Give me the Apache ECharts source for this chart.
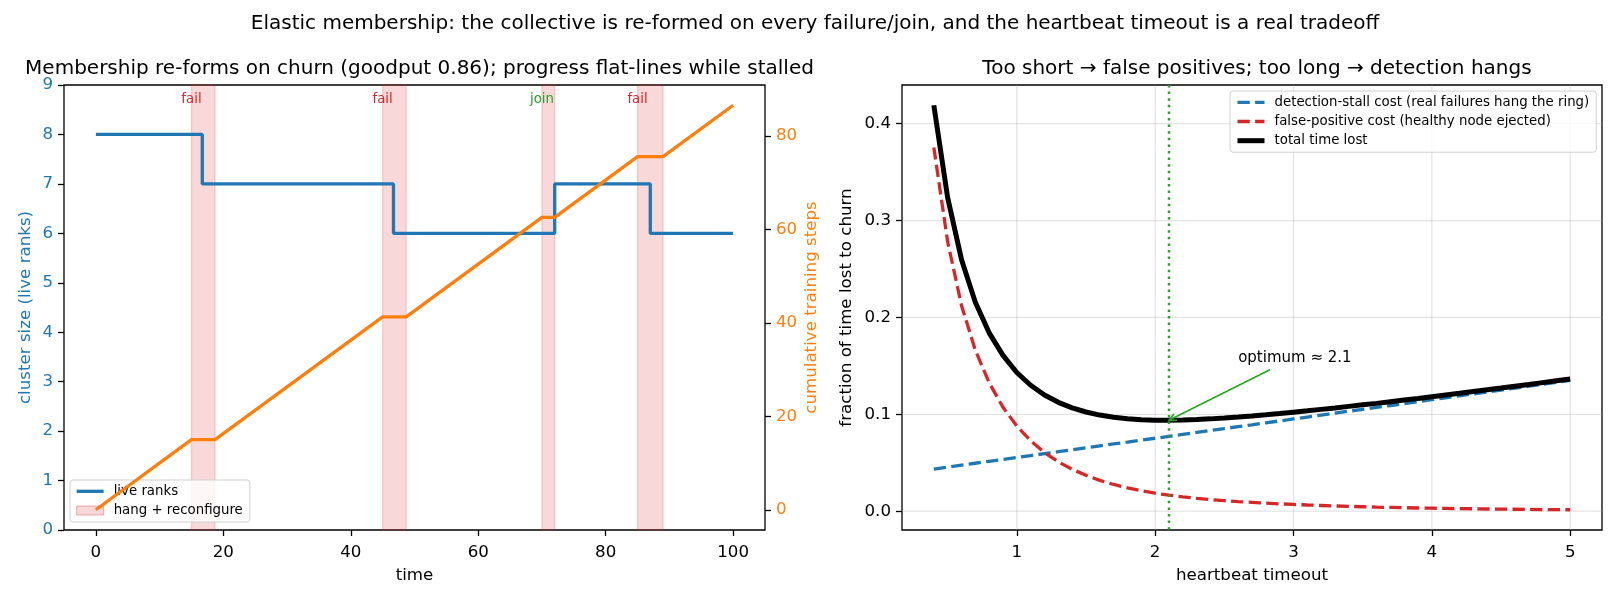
<!DOCTYPE html>
<html>
<head>
<meta charset="utf-8">
<script src="https://cdn.jsdelivr.net/npm/echarts@6/dist/echarts.min.js"></script>
<style>
html,body{margin:0;padding:0;background:#fff;}
#chart{width:1620px;height:600px;}
</style>
</head>
<body>
<div id="chart"></div>
<script>
// ---------- Left panel data ----------
const liveTime = [0, 16.7, 46.7, 72, 87, 100];
const liveRanks = [8, 7, 6, 7, 6, 6];
const stepTime = [0, 15, 18.7, 45, 48.7, 70, 72, 85, 89, 100];
const cumSteps = [0, 15, 15, 41.3, 41.3, 62.6, 62.6, 75.6, 75.6, 86.6];
const spanStart = [15, 45, 70, 85];
const spanEnd = [18.7, 48.7, 72, 89];
const spanKind = ['fail', 'fail', 'join', 'fail'];
const spanLabelY = 8.7;
const leftXTicks = [0, 20, 40, 60, 80, 100];
const stepTicks = [0, 20, 40, 60, 80];

// ---------- Right panel data ----------
const timeout = [0.4,0.5,0.6,0.7,0.8,0.9,1.0,1.1,1.2,1.3,1.4,1.5,1.6,1.7,1.8,1.9,2.0,2.1,2.2,2.3,2.4,2.5,2.6,2.7,2.8,2.9,3.0,3.1,3.2,3.3,3.4,3.5,3.6,3.7,3.8,3.9,4.0,4.1,4.2,4.3,4.4,4.5,4.6,4.7,4.8,4.9,5.0];
const stallCost = [0.0435,0.0455,0.0475,0.0495,0.0515,0.0535,0.0554,0.0574,0.0594,0.0614,0.0634,0.0654,0.0674,0.0694,0.0713,0.0733,0.0753,0.0773,0.0793,0.0813,0.0833,0.0853,0.0873,0.0892,0.0912,0.0932,0.0952,0.0972,0.0992,0.1012,0.1032,0.1052,0.1071,0.1091,0.1111,0.1131,0.1151,0.1171,0.1191,0.1211,0.1231,0.1250,0.1270,0.1290,0.1310,0.1330,0.1350];
const fpCost = [0.3755,0.2782,0.2124,0.1662,0.1326,0.1073,0.0878,0.0726,0.0606,0.0510,0.0433,0.0370,0.0318,0.0276,0.0241,0.0211,0.0186,0.0165,0.0148,0.0133,0.0120,0.0109,0.0099,0.0091,0.0083,0.0076,0.0070,0.0064,0.0059,0.0054,0.0050,0.0046,0.0042,0.0039,0.0036,0.0033,0.0031,0.0029,0.0026,0.0025,0.0023,0.0021,0.0020,0.0018,0.0017,0.0016,0.0015];
const totalLost = [0.4190,0.3237,0.2599,0.2157,0.1841,0.1608,0.1432,0.1300,0.1200,0.1124,0.1067,0.1024,0.0992,0.0970,0.0954,0.0944,0.0939,0.0938,0.0941,0.0946,0.0953,0.0962,0.0972,0.0983,0.0995,0.1008,0.1022,0.1036,0.1051,0.1066,0.1082,0.1098,0.1113,0.1130,0.1147,0.1164,0.1182,0.1200,0.1217,0.1236,0.1254,0.1271,0.1290,0.1308,0.1327,0.1346,0.1365];
const rightXTicks = [1, 2, 3, 4, 5];
const rightYTicks = [0, 0.1, 0.2, 0.3, 0.4];
const optimumX = 2.1;
const optimumY = 0.0938;
const annotText = 'optimum ≈ 2.1';
const annotTextPos = [2.6, 0.158];
const annotArrowTail = [2.83, 0.146];

const FONT = 'DejaVu Sans';
const C_BLUE = '#1f77b4', C_ORANGE = '#ff7f0e', C_RED = '#d62728', C_GREEN = '#2ca02c';
const TICK = 16.67;

const chart = echarts.init(document.getElementById('chart'), null, {renderer: 'canvas'});

function tick(custom) {
  const t = {show: true, inside: false, length: 6, lineStyle: {color: '#000', width: 1.3}};
  if (custom) t.customValues = custom;
  return t;
}
function label(color, custom, margin, fmt) {
  const l = {fontFamily: FONT, fontSize: TICK, color: color, margin: margin};
  if (custom) l.customValues = custom;
  if (fmt) l.formatter = fmt;
  return l;
}
const noLine = {show: false, onZero: false};
const legendTxt = {fontFamily: FONT, fontSize: 13.33, color: '#000', padding: [0, 0, 0, 5]};
const hideSym = {opacity: 0};

const opt = {
  animation: false,
  backgroundColor: '#fff',
  textStyle: {fontFamily: FONT},
  title: [
    {text: 'Elastic membership: the collective is re-formed on every failure/join, and the heartbeat timeout is a real tradeoff',
     left: 810, top: 9, textAlign: 'center', textStyle: {fontFamily: FONT, fontSize: 20, fontWeight: 'normal', color: '#000'}},
    {text: 'Membership re-forms on churn (goodput 0.86); progress flat-lines while stalled',
     left: 414.5, top: 54, textAlign: 'center', textStyle: {fontFamily: FONT, fontSize: 20, fontWeight: 'normal', color: '#000'}},
    {text: 'Too short → false positives; too long → detection hangs',
     left: 1252, top: 54, textAlign: 'center', textStyle: {fontFamily: FONT, fontSize: 20, fontWeight: 'normal', color: '#000'}}
  ],
  grid: [
    {left: 64, right: 855, top: 85, bottom: 70, show: true, borderColor: '#000', borderWidth: 1.3, backgroundColor: 'transparent'},
    {left: 902, right: 18, top: 85, bottom: 70, show: true, borderColor: '#000', borderWidth: 1.3, backgroundColor: 'transparent'}
  ],
  legend: [
    {
      data: [
        {name: 'live ranks', itemStyle: hideSym, lineStyle: {width: 3.3}},
        {name: 'hang + reconfigure', icon: 'rect', itemStyle: {color: 'rgba(214,39,40,0.18)', borderColor: 'rgba(214,39,40,0.35)', borderWidth: 1}}
      ],
      orient: 'vertical', left: 70, top: 480, z: 4,
      itemWidth: 27, itemHeight: 9, itemGap: 6.2,
      padding: [4.8, 7, 5, 5],
      backgroundColor: 'rgba(255,255,255,0.8)', borderColor: '#d0d0d0', borderWidth: 1, borderRadius: 3,
      textStyle: legendTxt, selectedMode: false
    },
    {
      data: [
        {name: 'detection-stall cost (real failures hang the ring)', itemStyle: hideSym, lineStyle: {width: 3.3}},
        {name: 'false-positive cost (healthy node ejected)', itemStyle: hideSym, lineStyle: {width: 3.3}},
        {name: 'total time lost', itemStyle: hideSym, lineStyle: {width: 5}}
      ],
      orient: 'vertical', left: 1230, top: 91, z: 4,
      itemWidth: 27, itemHeight: 9, itemGap: 6.2,
      padding: [4.8, 7, 5, 5],
      backgroundColor: 'rgba(255,255,255,0.8)', borderColor: '#d0d0d0', borderWidth: 1, borderRadius: 3,
      textStyle: legendTxt, selectedMode: false
    }
  ],
  xAxis: [
    {type: 'value', gridIndex: 0, min: -5, max: 105, name: 'time', nameLocation: 'middle', nameGap: 37,
     nameTextStyle: {fontFamily: FONT, fontSize: TICK, color: '#000'},
     axisLine: noLine, splitLine: {show: false},
     axisLabel: label('#000', leftXTicks, 14), axisTick: tick(leftXTicks)},
    {type: 'value', gridIndex: 1, min: 0.17, max: 5.23, name: 'heartbeat timeout', nameLocation: 'middle', nameGap: 37,
     nameTextStyle: {fontFamily: FONT, fontSize: TICK, color: '#000'},
     axisLine: noLine, splitLine: {show: false},
     axisLabel: label('#000', rightXTicks, 14), axisTick: tick(rightXTicks)}
  ],
  yAxis: [
    {type: 'value', gridIndex: 0, min: 0, max: 9, interval: 1, name: 'cluster size (live ranks)', nameLocation: 'middle', nameGap: 30,
     nameTextStyle: {fontFamily: FONT, fontSize: TICK, color: C_BLUE},
     axisLine: noLine, splitLine: {show: false},
     axisLabel: label(C_BLUE, null, 11), axisTick: tick(null)},
    {type: 'value', gridIndex: 0, position: 'right', min: -4.33, max: 90.93, name: 'cumulative training steps', nameLocation: 'middle', nameGap: 38,
     nameTextStyle: {fontFamily: FONT, fontSize: TICK, color: C_ORANGE},
     axisLine: noLine, splitLine: {show: false},
     axisLabel: label(C_ORANGE, stepTicks, 11), axisTick: tick(stepTicks)},
    {type: 'value', gridIndex: 1, min: -0.0194, max: 0.4399, name: 'fraction of time lost to churn', nameLocation: 'middle', nameGap: 47,
     nameTextStyle: {fontFamily: FONT, fontSize: TICK, color: '#000'},
     axisLine: noLine, splitLine: {show: false},
     axisLabel: label('#000', rightYTicks, 11, v => v.toFixed(1)), axisTick: tick(rightYTicks)}
  ],
  series: [
    {
      type: 'custom', name: 'hang + reconfigure', xAxisIndex: 0, yAxisIndex: 0, z: 1,
      itemStyle: {color: 'rgba(214,39,40,0.18)'},
      data: spanStart.map((s, i) => [s, spanEnd[i], spanLabelY]),
      encode: {x: [0, 1], y: 2},
      renderItem: function (params, api) {
        const cs = params.coordSys;
        const p0 = api.coord([api.value(0), api.value(2)]);
        const p1 = api.coord([api.value(1), api.value(2)]);
        const kind = spanKind[params.dataIndex];
        return {
          type: 'group',
          children: [
            {type: 'rect', shape: {x: p0[0], y: cs.y, width: p1[0] - p0[0], height: cs.height},
             style: {fill: 'rgba(214,39,40,0.18)', stroke: 'rgba(214,39,40,0.18)', lineWidth: 1.3}},
            {type: 'text', style: {text: kind, x: p0[0], y: p0[1], align: 'center', verticalAlign: 'middle',
              fill: kind === 'join' ? C_GREEN : C_RED, fontSize: 13.33, fontFamily: FONT}}
          ]
        };
      }
    },
    {
      type: 'line', name: 'live ranks', xAxisIndex: 0, yAxisIndex: 0, z: 3,
      step: 'end', symbol: 'none', showSymbol: false,
      data: liveTime.map((t, i) => [t, liveRanks[i]]),
      lineStyle: {color: C_BLUE, width: 3.3}, itemStyle: {color: C_BLUE}
    },
    {
      type: 'line', name: 'cumulative steps', xAxisIndex: 0, yAxisIndex: 1, z: 6,
      symbol: 'none', showSymbol: false,
      data: stepTime.map((t, i) => [t, cumSteps[i]]),
      lineStyle: {color: C_ORANGE, width: 3.3}, itemStyle: {color: C_ORANGE}
    },
    {
      type: 'custom', name: 'grid-r', xAxisIndex: 1, yAxisIndex: 2, z: 0, silent: true,
      data: rightXTicks.map(v => [v, 0, 0]).concat(rightYTicks.map(v => [1, v, 1])),
      renderItem: function (params, api) {
        const cs = params.coordSys;
        const p = api.coord([api.value(0), api.value(1)]);
        const vert = api.value(2) === 0;
        return {type: 'line',
          shape: vert ? {x1: p[0], y1: cs.y, x2: p[0], y2: cs.y + cs.height} : {x1: cs.x, y1: p[1], x2: cs.x + cs.width, y2: p[1]},
          style: {stroke: 'rgba(176,176,176,0.35)', lineWidth: 1.2}};
      }
    },
    {
      type: 'line', name: 'detection-stall cost (real failures hang the ring)', xAxisIndex: 1, yAxisIndex: 2, z: 3,
      symbol: 'none', showSymbol: false,
      data: timeout.map((x, i) => [x, stallCost[i]]),
      lineStyle: {color: C_BLUE, width: 3.3, type: [12.3, 5.3]}, itemStyle: {color: C_BLUE}
    },
    {
      type: 'line', name: 'false-positive cost (healthy node ejected)', xAxisIndex: 1, yAxisIndex: 2, z: 3,
      symbol: 'none', showSymbol: false,
      data: timeout.map((x, i) => [x, fpCost[i]]),
      lineStyle: {color: C_RED, width: 3.3, type: [12.3, 5.3]}, itemStyle: {color: C_RED}
    },
    {
      type: 'line', name: 'total time lost', xAxisIndex: 1, yAxisIndex: 2, z: 4,
      symbol: 'none', showSymbol: false,
      data: timeout.map((x, i) => [x, totalLost[i]]),
      lineStyle: {color: '#000', width: 5}, itemStyle: {color: '#000'}
    },
    {
      type: 'custom', name: 'optimum', xAxisIndex: 1, yAxisIndex: 2, z: 5, silent: true,
      data: [[optimumX, optimumY]],
      renderItem: function (params, api) {
        const cs = params.coordSys;
        const head = api.coord([api.value(0), api.value(1)]);
        const tail = api.coord(annotArrowTail);
        const tp = api.coord(annotTextPos);
        const ang = Math.atan2(tail[1] - head[1], tail[0] - head[0]);
        const L = 8, W = 0.45;
        const a1 = [head[0] + L * Math.cos(ang + W), head[1] + L * Math.sin(ang + W)];
        const a2 = [head[0] + L * Math.cos(ang - W), head[1] + L * Math.sin(ang - W)];
        return {
          type: 'group',
          children: [
            {type: 'line', shape: {x1: head[0], y1: cs.y, x2: head[0], y2: cs.y + cs.height},
             style: {stroke: C_GREEN, lineWidth: 2.5, lineDash: [2.5, 4.1]}},
            {type: 'line', shape: {x1: tail[0], y1: tail[1], x2: head[0], y2: head[1]},
             style: {stroke: C_GREEN, lineWidth: 1.6}},
            {type: 'polyline', shape: {points: [a1, head, a2]},
             style: {stroke: C_GREEN, lineWidth: 1.6, fill: null}},
            {type: 'text', style: {text: annotText, x: tp[0], y: tp[1], align: 'left', verticalAlign: 'middle',
              fill: '#000', fontSize: 15, fontFamily: FONT}}
          ]
        };
      }
    }
  ]
};
chart.setOption(opt);
</script>
</body>
</html>
